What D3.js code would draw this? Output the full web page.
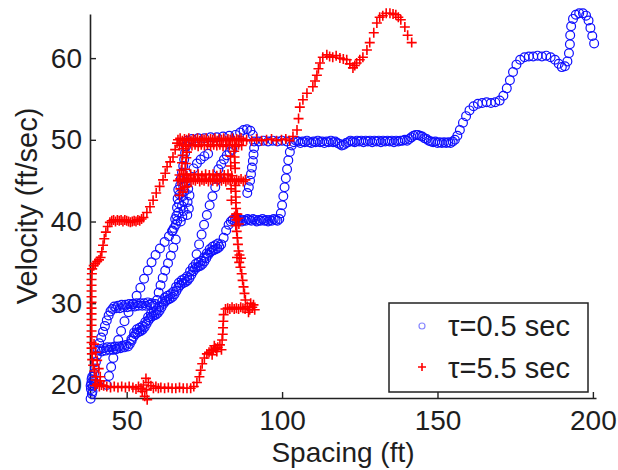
<!DOCTYPE html>
<html>
<head>
<meta charset="utf-8">
<title>Spacing vs velocity</title>
<script src="https://d3js.org/d3.v7.min.js"></script>
<style>
  body { margin: 0; background: #fff; }
  text { font-family: "Liberation Sans", Arial, sans-serif; fill: #1e1e1e; }
</style>
</head>
<body>
<div id="vis"></div>
<script>
// tick values and labels
let xTicks = [50, 100, 150, 200];
let yTicks = [20, 30, 40, 50, 60];
let legendLabels = ["τ=0.5 sec", "τ=5.5 sec"];

// tau = 0.5 sec, [spacing (ft), velocity (ft/sec)]
let blueStart = [[38.4,18.3],[38.8,18.9],[38.5,19.5],[39.1,19.8],[38.6,20.2],[39.3,20.6],[38.9,21.0],[39.5,21.4],[38.4,19.9],[39.6,20.1],[39.0,19.2],[38.7,20.7],[39.8,22.0],[40.1,22.8],[40.4,23.6]];
let blueLow = [[40.8,24.2],[41.4,24.4],[42.0,24.1],[42.6,24.5],[43.2,24.2],[43.8,24.6],[44.4,24.3],[45.0,24.6],[45.6,24.3],[46.2,24.7],[46.8,24.4],[47.4,24.7],[48.0,24.5],[48.6,24.8],[49.2,24.6],[49.8,24.9],[50.4,24.7],
  [41.2,25.1],[41.8,25.8],[42.4,26.5],[43.0,27.2],[43.6,27.9],[44.2,28.5],[44.8,29.0],
  [45.4,29.3],[46.0,29.6],[46.6,29.4],[47.2,29.7],[47.8,29.4],[48.4,29.8],[49.0,29.5],[49.6,29.8],[50.2,29.5],[50.8,29.9],[51.4,29.6],[52.0,29.9],[52.6,29.6],[53.2,30.0],[53.8,29.7],[54.4,30.0],[55.0,29.7],[55.6,30.0],[56.2,29.7],[56.8,30.1],[57.4,29.8],[58.0,30.0],[58.6,29.7],[59.2,29.9]];
let blueRamp = [[51.0,25.0],[51.6,25.4],[52.2,25.9],[52.8,26.2],[53.4,26.4],[54.0,26.5],[54.6,26.6],[55.2,26.8],[55.8,27.1],[56.4,27.5],[57.0,27.9],[57.6,28.2],[58.2,28.4],[58.8,28.5],[59.4,28.6],[60.0,28.8],[60.6,29.1],[61.2,29.5],[61.8,29.9],[62.4,30.2],[63.0,30.4],[63.6,30.5],[64.2,30.6],[64.8,30.8],[65.4,31.1],[66.0,31.5],[66.6,31.9],[67.2,32.2],[67.8,32.4],[68.4,32.5],[69.0,32.6],[69.6,32.8],[70.2,33.1],[70.8,33.5],[71.4,33.9],[72.0,34.2],[72.6,34.4],[73.2,34.5],[73.8,34.6],[74.4,34.8],[75.0,35.1],[75.6,35.5],[76.2,35.9],[76.8,36.2],[77.4,36.4],[78.0,36.5],[78.6,36.6],[79.2,36.7],[79.8,36.9],[80.4,37.2],
  [51.5,25.6],[52.4,26.4],[53.3,26.8],[54.2,27.0],[55.1,27.2],[56.0,27.7],[56.9,28.3],[57.8,28.7],[58.7,28.9],[59.6,29.1],[60.5,29.6],[61.4,30.2],[62.3,30.7],[63.2,30.9],[64.1,31.1],[65.0,31.4],[65.9,32.0],[66.8,32.5],[67.7,32.8],[68.6,33.0],[69.5,33.3],[70.4,33.9],[71.3,34.4],[72.2,34.8],[73.1,35.0],[74.0,35.2],[74.9,35.6],[75.8,36.1],[76.7,36.6],[77.6,36.9],[78.5,37.1],[79.4,37.3]];
let blueSparse = [[43.6,20.0],[44.3,21.1],[45.0,22.2],[45.7,23.3],[46.5,24.4],[47.3,25.5],[48.2,26.6],[49.3,27.8],[50.6,28.9],[52.0,29.9],[53.2,30.9],[54.4,31.9],[55.6,33.0],[56.8,34.0],[58.0,35.0],[59.3,35.9],[60.7,36.7],[62.2,37.5],[63.6,38.2],[64.8,38.9],
  [59.8,30.4],[60.3,31.3],[60.9,32.2],[61.6,33.1],[62.4,34.0],[63.3,34.9],[64.2,35.8],[65.0,36.8],[65.8,37.8],
  [72.5,36.0],[73.3,37.2],[74.1,38.4],[74.9,39.6],[75.8,40.8],[76.7,42.0],[77.6,43.1],[78.5,44.2],[79.4,45.2]];
let blueLoop = [[65.2,39.2],[65.8,39.6],[66.3,40.1],[66.0,40.7],[66.6,41.1],[66.2,41.7],[66.8,42.2],[66.4,42.8],[67.0,43.3],[66.6,43.9],[67.2,44.4],[65.6,40.3],[67.4,40.0],[67.9,40.6],[68.3,41.3],[67.8,41.9],[68.4,42.5],[68.0,43.1],[68.6,43.7],[68.2,44.3],[69.0,44.8],[69.5,40.8],[70.0,41.6],[69.6,42.4],[70.2,43.2],[69.8,44.0],[64.6,38.8],
  [67.4,45.2],[67.8,46.0],[68.2,46.8],[68.5,47.6],[68.8,48.4],[69.1,49.2],[69.5,49.9],
  [71.5,46.5],[72.6,47.1],[73.8,47.6],[75.0,48.0],[76.2,48.3],[79.5,46.4],[80.4,47.0],[81.3,47.6],[82.2,48.1],[83.1,48.5],[84.0,48.8],
  [71.0,50.1],[73.0,50.2],[75.0,50.2],[77.0,50.3],[79.0,50.3],[81.0,50.4],[83.0,50.5],[85.0,50.6],
  [86.5,50.9],[87.6,51.2],[88.7,51.3],[89.8,51.1],[90.6,50.6],[91.0,49.8],
  [91.0,49.0],[90.8,48.2],[90.6,47.4],[90.3,46.6],[90.0,45.8],[89.7,45.0],[89.3,44.2],[88.8,43.5],
  [92.5,49.8],[94.0,49.9],[95.5,49.8],[97.0,49.9],[98.5,49.8],[100.0,49.9],[101.5,49.8]];
let blueForty = [[81.2,38.0],[82.0,38.9],[82.8,39.6],
  [83.5,40.0],[84.1,40.2],[84.7,40.1],[85.3,40.3],[85.9,40.1],[86.5,40.2],[87.1,40.0],[87.7,40.2],[88.3,40.1],[88.9,40.3],[89.5,40.2],[90.1,40.1],[90.7,40.3],[91.3,40.2],[91.9,40.0],[92.5,40.2],[93.1,40.1],[93.7,40.3],[94.3,40.1],[94.9,40.2],[95.5,40.0],[96.1,40.2],[96.7,40.1],[97.3,40.3],[97.9,40.2],[98.5,40.1],[99.1,40.3],
  [99.6,41.0],[100.0,42.0],[100.4,43.1],[100.8,44.2],[101.2,45.3],[101.6,46.4],[102.0,47.5],[102.5,48.5],[103.1,49.3]];
let blueFifty = [[103.8,49.7],[104.5,49.9],[105.2,49.8],[105.9,49.6],[106.6,49.8],[107.3,49.7],[108.0,49.9],[108.7,49.7],[109.4,49.6],[110.1,49.8],[110.8,49.7],[111.5,49.9],[112.2,49.7],[112.9,49.8],[113.6,49.6],[114.3,49.8],[115.0,49.7],[115.7,49.9],[116.4,49.7],[117.1,49.8],[117.8,49.6],[118.5,49.5],[119.2,49.3],[119.9,49.4],[120.6,49.6],[121.3,49.7],[122.0,49.9],[122.7,49.8],[123.4,49.7],[124.1,49.9],[124.8,49.8],[125.5,49.9],[126.2,49.7],[126.9,49.9],[127.6,49.8],[128.3,49.9],[129.0,49.7],[129.7,49.9],[130.4,49.8],[131.1,49.9],[131.8,49.7],[132.5,49.9],[133.2,49.8],[133.9,49.9],[134.6,49.8],[135.3,49.9],[136.0,49.7],[136.7,49.9],[137.4,49.8],[138.1,49.9],[138.8,49.9],[139.5,50.0],[140.2,49.9],[140.9,50.1],[141.6,50.3],[142.3,50.5],[143.0,50.6],[143.7,50.6],[144.4,50.5],[145.1,50.4],[145.8,50.2],[146.5,50.1],[147.2,49.9],[147.9,49.8],[148.6,49.7],[149.3,49.8],[150.0,49.6],[150.7,49.7],[151.4,49.6],[152.1,49.7],[152.8,49.6],[153.5,49.7],[154.2,49.6],[154.9,49.8],[155.6,50.0]];
let blueTail = [[156.4,50.5],[157.2,51.2],[158.2,52.1],[159.2,52.9],[160.3,53.6],[161.6,54.1],[163.0,54.4],[164.4,54.5],[165.8,54.6],[167.2,54.5],[168.6,54.6],[170.0,54.8],[171.2,55.4],[172.3,56.3],[173.3,57.3],[174.3,58.3],[175.4,59.2],[176.6,59.8],[178.0,60.1],[179.4,60.2],[180.8,60.2],[182.2,60.3],[183.6,60.2],[185.0,60.3],[186.4,60.1],[187.8,59.8],[189.0,59.3],[190.0,58.9],[191.0,59.0],[191.8,59.6],[192.3,60.6],[192.6,61.7],[192.7,62.8],[193.0,63.9],[193.6,64.8],[194.5,65.3],[195.6,65.5],[196.8,65.5],[197.8,65.2],[198.6,64.6],[199.2,63.7],[199.8,62.7],[200.4,61.8]];

// tau = 5.5 sec
let redLeft = [[41.5,21.0],[41.0,22.0],[40.5,23.0],[40.0,24.0],[39.5,25.0],
  [40.2,21.0],[39.6,21.7],[39.2,22.4],[38.9,23.1],[38.8,23.8],[38.7,24.5],[38.7,25.2],[38.7,25.9],[38.7,26.6],[38.7,27.3],[38.7,28.0],[38.7,28.7],[38.7,29.4],[38.7,30.1],[38.7,30.8],[38.7,31.5],[38.7,32.2],[38.7,32.9],[38.8,33.6],[38.9,34.2]];
let redForty = [[39.4,34.6],[39.9,34.9],[40.5,35.1],[41.1,35.3],[41.6,35.6],[42.0,36.3],[42.4,37.1],[42.8,37.9],[43.3,38.7],[43.9,39.4],[44.6,39.9],
  [45.2,40.1],[45.8,40.2],[46.4,40.0],[47.0,40.2],[47.6,40.1],[48.2,40.2],[48.8,40.0],[49.4,40.2],[50.0,40.1],[50.6,40.0],[51.2,39.9],[51.8,40.0],[52.4,40.1],[53.0,40.0],[53.6,40.2],[54.2,40.1],[54.8,40.3],[55.4,40.5],
  [56.5,41.1],[57.5,41.8],[58.5,42.6],[59.5,43.5],[60.6,44.3],[61.7,45.1],[62.4,45.9],[63.0,46.7],[64.0,47.3],[64.9,47.9],[65.6,48.8],[66.2,49.6]];
let redBox = [[66.5,50.0],[67.2,50.2],[67.9,49.9],[68.6,50.1],[69.3,50.0],[70.0,50.2],[70.7,49.9],[71.4,50.1],[72.1,50.0],[72.8,50.2],[73.5,49.9],[74.2,50.1],[74.9,50.0],[75.6,50.2],[76.3,49.9],[77.0,50.1],[77.7,50.0],[78.4,50.2],[79.1,49.9],[79.8,50.1],[80.5,50.0],[81.2,50.2],[81.9,49.9],[82.6,50.1],[83.3,50.0],[84.0,50.2],[84.7,49.9],[85.4,50.1],[86.1,50.0],[86.8,50.2],[87.5,49.9],
  [67.0,49.3],[68.0,49.4],[69.0,49.2],[70.0,49.4],[71.0,49.3],[72.0,49.4],[73.0,49.2],[74.0,49.4],[75.0,49.3],[76.0,49.4],[77.0,49.2],[78.0,49.4],[79.0,49.3],[80.0,49.4],[81.0,49.2],[82.0,49.4],[83.0,49.3],[84.0,49.4],[85.0,49.2],[86.0,49.4],[87.0,49.3],
  [88.6,50.0],[90.2,49.9],[91.8,50.1],[93.4,49.9],[95.0,50.0],[96.6,50.1],[98.2,49.9],[99.8,50.0],[101.2,50.1],[102.4,49.9],
  [66.5,45.0],[67.2,45.2],[67.9,44.9],[68.6,45.1],[69.3,45.0],[70.0,45.3],[70.7,44.9],[71.4,45.1],[72.1,45.0],[72.8,45.2],[73.5,44.9],[74.2,45.1],[74.9,45.0],[75.6,45.2],[76.3,44.9],[77.0,45.1],[77.7,45.0],[78.4,45.2],[79.1,44.9],[79.8,45.1],[80.5,45.0],[81.2,45.2],[81.9,44.9],[82.6,45.1],[83.3,45.0],[84.0,45.2],[84.7,44.9],[85.4,45.1],[86.1,45.0],[86.8,45.2],[87.5,44.9],[88.2,45.1],
  [67.0,45.7],[68.2,45.8],[69.4,45.6],[70.6,45.8],[71.8,45.7],[73.0,45.8],[74.2,45.6],[75.4,45.8],[76.6,45.7],[77.8,45.8],[79.0,45.6],[80.2,45.8],[81.4,45.7],[82.6,45.8],[83.8,45.6],
  [68.8,46.4],[69.0,47.1],[69.2,47.8],[69.4,48.5],[67.6,46.3],[67.8,47.2],[68.0,48.1],[68.2,48.9],
  [67.0,43.2],[67.3,44.0],[68.0,43.6],[68.7,44.2],[69.5,44.3],
  [84.6,48.6],[84.7,47.9],[84.8,47.2],[84.9,46.5],[85.0,44.4],[85.0,43.7],[85.1,43.0],[85.1,42.3],[85.2,41.6],[85.2,40.9],[85.3,40.2],
  [85.9,40.4],[84.7,40.6],[86.1,39.7],[85.1,39.5],[85.6,40.9],
  [83.4,48.0],[83.5,46.8],[83.6,44.0],[83.7,42.6]];
let redDown = [[85.4,38.8],[85.6,38.0],[85.8,37.2],[86.0,36.4],[85.5,35.6],[86.8,35.5],[86.2,35.0],[86.3,35.9],[86.6,34.4],[87.0,33.6],[87.3,32.8],[87.6,32.0],[87.9,31.2],[88.2,30.4],
  [88.8,29.6],[89.6,29.2],[90.4,29.5],[91.2,29.2],[89.2,28.9],[90.8,29.8],[89.9,30.0],
  [81.8,29.3],[82.5,29.4],[83.2,29.3],[83.9,29.5],[84.6,29.3],[85.3,29.4],[86.0,29.3],[86.7,29.5],[87.4,29.4],[88.1,29.3],
  [81.2,28.6],[81.1,27.8],[81.0,27.0],[80.9,26.2],[80.7,25.5],
  [80.5,24.3],[80.0,24.9],[79.3,24.6],[78.6,24.5],[77.9,24.3],[77.2,24.2],[76.5,24.0],[75.8,23.8],[78.2,24.8],[79.0,24.1],[77.5,23.7],
  [75.0,23.3],[74.3,22.6],[73.8,21.8],[73.4,21.0],[72.6,20.3],[71.6,19.8]];
let redBottom = [[70.6,19.6],[69.4,19.6],[68.2,19.6],[67.0,19.7],[65.8,19.6],[64.6,19.6],[63.4,19.7],[62.2,19.6],
  [61.0,19.7],[60.2,19.6],[59.4,19.8],[58.6,19.6],[57.8,19.9],[57.0,20.3],[56.4,19.4],[55.8,18.6],[56.6,18.2],[55.4,20.0],[54.6,19.6],[53.8,19.8],[53.0,19.5],[56.2,20.8],[55.0,19.2],
  [52.0,19.7],[50.8,19.8],[49.6,19.7],[48.4,19.8],[47.2,19.7],[46.0,19.8],[44.8,19.7],[43.6,19.8],
  [42.6,19.9],[41.9,20.0],[41.2,19.8],[40.5,20.1],[39.8,19.9],[41.5,20.5],[40.0,20.6]];
let redTop = [[103.5,50.4],[104.8,51.2],[105.3,52.6],[105.7,54.0],[106.7,54.9],[108.0,55.7],[109.9,56.5],[110.6,57.2],[111.2,57.9],[111.7,58.7],[112.2,59.4],[113.1,60.1],[114.4,60.4],[115.3,60.2],[116.3,60.1],[117.4,60.3],[118.6,60.0],[119.7,59.9],[120.8,59.8],[121.8,59.3],[122.8,58.8],[123.4,59.1],[124.0,59.4],[125.0,59.8],[126.0,60.1],[127.3,61.0],[128.2,61.9],[129.5,63.1],[130.5,64.3],[131.4,65.0],[132.4,65.2],[133.5,65.5],[134.7,65.5],[135.7,65.4],[136.6,65.3],[137.4,65.0],[138.2,64.7],[139.5,63.8],[140.4,62.8],[141.7,61.9]];

let tau05 = [].concat(blueStart, blueLow, blueRamp, blueSparse, blueLoop, blueForty, blueFifty, blueTail);
let tau55 = [].concat(redLeft, redForty, redBox, redDown, redBottom, redTop);

let w = 618, h = 470;
let m = {left: 90, right: 596, top: 14, bottom: 398};

let svg = d3.select("#vis").append("svg")
            .attr("width", w)
            .attr("height", h);

let x = d3.scaleLinear().domain([38.2, 201]).range([m.left, m.right]);
let y = d3.scaleLinear().domain([18.4, 65.4]).range([m.bottom, m.top]);

// axes, matlab style: ticks inside, no box
let xAxis = svg.append("g")
  .attr("transform", "translate(0," + m.bottom + ")")
  .call(d3.axisBottom(x).tickValues(xTicks).tickSizeInner(-6).tickSizeOuter(0).tickPadding(12));
let yAxis = svg.append("g")
  .attr("transform", "translate(" + m.left + ",0)")
  .call(d3.axisLeft(y).tickValues(yTicks).tickSizeInner(-6).tickSizeOuter(0).tickPadding(8));
[xAxis, yAxis].forEach(function(g) {
  g.select(".domain").attr("stroke", "#222").attr("stroke-width", 1.6);
  g.selectAll(".tick line").attr("stroke", "#222").attr("stroke-width", 1.4);
  g.selectAll(".tick text").style("font-size", "28px").attr("fill", "#1e1e1e");
});

svg.append("text")
  .attr("x", (m.left + m.right) / 2)
  .attr("y", 462)
  .attr("text-anchor", "middle")
  .style("font-size", "28px")
  .text("Spacing (ft)");

svg.append("text")
  .attr("transform", "translate(37," + (m.top + m.bottom) / 2 + ") rotate(-90)")
  .attr("text-anchor", "middle")
  .style("font-size", "29px")
  .text("Velocity (ft/sec)");

let plus = "M-5,0H5M0,-5V5";

svg.append("g").selectAll("circle")
  .data(tau05)
  .enter().append("circle")
  .attr("cx", function(d) { return x(d[0]); })
  .attr("cy", function(d) { return y(d[1]); })
  .attr("r", 4.4)
  .attr("fill", "none")
  .attr("stroke", "#1010ff")
  .attr("stroke-width", 1.2);

svg.append("g").selectAll("path")
  .data(tau55)
  .enter().append("path")
  .attr("transform", function(d) { return "translate(" + x(d[0]) + "," + y(d[1]) + ")"; })
  .attr("d", plus)
  .attr("fill", "none")
  .attr("stroke", "#ff0000")
  .attr("stroke-width", 1.6);

// legend
let lg = svg.append("g").attr("transform", "translate(389,303)");
lg.append("rect")
  .attr("width", 199).attr("height", 89)
  .attr("fill", "#fff").attr("stroke", "#222").attr("stroke-width", 1.5);
lg.append("circle")
  .attr("cx", 33).attr("cy", 23).attr("r", 3)
  .attr("fill", "none").attr("stroke", "#8888ff").attr("stroke-width", 1.2);
lg.append("path")
  .attr("transform", "translate(33,64)")
  .attr("d", "M-4,0H4M0,-4V4")
  .attr("stroke", "#ff0000").attr("stroke-width", 1.6);
lg.selectAll("text.lab")
  .data(legendLabels)
  .enter().append("text")
  .attr("class", "lab")
  .attr("x", 59)
  .attr("y", function(d, i) { return 33 + i * 42; })
  .style("font-size", "29px")
  .text(function(d) { return d; });
</script>
</body>
</html>
